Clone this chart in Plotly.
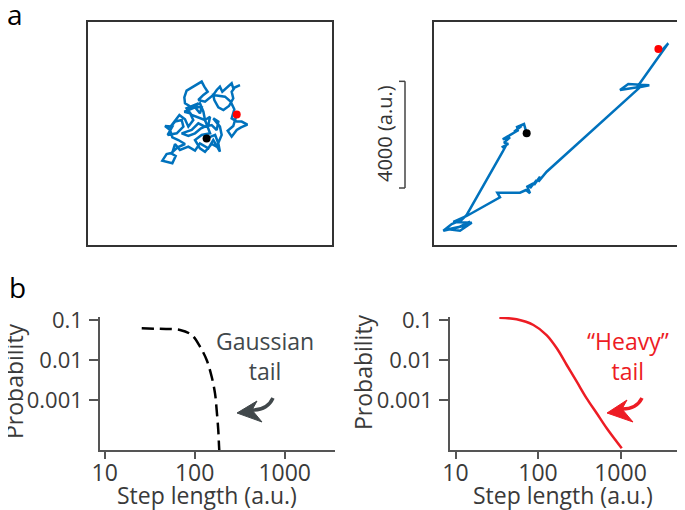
import plotly.graph_objects as go

# random walk (a.u.), Brownian-like on the left
bm_x = [4560, 4880, 5000, 5060, 4810, 4625, 4310, 4125, 3875, 3560, 3375, 3275, 3060, 2900, 3275, 3400,
        3225, 3475, 3750, 3500, 3275, 3190, 3000, 3275, 3100, 3440, 3690, 3625, 3375, 3190, 3540, 3750,
        3875, 4060, 3940, 3725, 4125, 4310, 4375, 4060, 4310, 4440, 4500, 4690, 4625, 4350, 4125, 3875,
        3625, 4000, 4250, 4500, 4750, 4940, 5000, 4810, 5060, 5125, 4940, 4750, 4500, 4310, 4125, 4375,
        4690, 4500, 4000, 3810, 4250, 4000, 3750, 3725, 3810, 4125, 4375, 4475, 4600, 4440, 4250, 4500,
        4650, 4810, 4940, 5060, 5150, 5310, 5500, 5560, 5810, 5625, 5500, 5560, 5400, 5190, 5000, 4850,
        4810, 5250, 5460, 5600, 5500, 5690, 5875, 6090, 5850, 5690, 5500, 5350, 5560, 5690]
bm_y = [4310, 4440, 4125, 3810, 4250, 3940, 4125, 3850, 4000, 3875, 4100, 3775, 3725, 3475, 3375, 3650,
        3750, 3975, 4100, 4250, 4350, 4625, 4775, 4750, 4440, 4500, 4750, 5000, 4940, 4725, 5190, 5025,
        4750, 5000, 5250, 5310, 5475, 5250, 5475, 5500, 5625, 5310, 5000, 5125, 4810, 4690, 4500, 4400,
        4500, 4625, 4875, 4750, 4810, 4625, 4940, 5060, 4750, 4440, 4000, 4100, 3810, 3940, 4250, 4440,
        4500, 5000, 5190, 5440, 5625, 5475, 5625, 5850, 6100, 6275, 6440, 6250, 6060, 5940, 5750, 5690,
        5810, 5940, 6125, 6250, 6060, 6190, 6375, 6190, 6310, 6225, 6060, 5810, 5525, 5375, 5475, 5750,
        5940, 5875, 5690, 5400, 5060, 4940, 4940, 4825, 4725, 4625, 4375, 4600, 4775, 5210]

# Levy-like walk on the right
lw_x = [4000, 3900, 3600, 3810, 3525, 3700, 3275, 3100, 3375, 3150, 3310, 3060, 3225, 3100, 1750,
        1560, 1190, 875, 1440, 1875, 1625, 1060, 1500, 1940, 1250, 1750, 3000, 2900, 3750, 3975,
        4125, 4025, 4250, 4125, 4375, 4275, 4500, 4440, 4750, 8275, 7500, 7810, 8600, 8125, 9310,
        9060, 8940]
lw_y = [4500, 4850, 4725, 4775, 4560, 4625, 4375, 4275, 4350, 4150, 4100, 3975, 4050, 3810, 1440,
        1250, 1100, 850, 975, 1190, 1025, 900, 850, 1150, 1175, 1400, 2100, 2275, 2275, 2375,
        2250, 2500, 2625, 2440, 2750, 2560, 2875, 2690, 3060, 6250, 6125, 6350, 6300, 6210, 7875,
        7600, 7660]

scale_bar = [2450, 6450]  # 4000 a.u.

# panel b step length distributions
gauss_step = [25.8, 41.1, 68.7, 92.6, 114.6, 135.9, 154.5, 168.2, 175.5, 182.8, 186.2, 188]
gauss_prob = [0.062, 0.060, 0.0562, 0.0422, 0.0215, 0.01, 0.00382, 0.00147, 0.00056, 0.000178, 0.000075, 0.00005]
heavy_step = [34, 55, 88, 127, 169, 223, 295, 389, 515, 681, 1035]
heavy_prob = [0.114, 0.104, 0.075, 0.042, 0.0196, 0.0075, 0.00287, 0.0011, 0.000465, 0.000196, 0.000062]

x_ticks = [10, 100, 1000]
y_ticks = [0.1, 0.01, 0.001]
y_ticktext = ["0.1", "0.01", "0.001"]

# the page body adds an 8px margin, so the figure is drawn 8px smaller and
# every layout position below is given in window pixels
OFF = 8
W, H = 685 - OFF, 510 - OFF
FONT = "Open Sans"
BLUE = "#0072BD"
RED = "#ED1C24"
GREY = "#41484b"
TXT = "#3a3a3a"


def fx(x):
    return (x - OFF) / W


def fy(y):
    return 1 - (y - OFF) / H


fig = go.Figure()

for (xs, ys, xa, ya) in [(bm_x, bm_y, "x", "y"), (lw_x, lw_y, "x2", "y2")]:
    fig.add_trace(go.Scatter(x=xs, y=ys, mode="lines", xaxis=xa, yaxis=ya,
                             line=dict(color=BLUE, width=2.5)))
    fig.add_trace(go.Scatter(x=[xs[0]], y=[ys[0]], mode="markers", xaxis=xa, yaxis=ya,
                             marker=dict(color="black", size=8)))
    fig.add_trace(go.Scatter(x=[xs[-1]], y=[ys[-1]], mode="markers", xaxis=xa, yaxis=ya,
                             marker=dict(color="#ff0000", size=8)))

fig.add_trace(go.Scatter(x=gauss_step, y=gauss_prob, mode="lines", xaxis="x3", yaxis="y3",
                         line=dict(color="black", width=2.5, dash="12px,6px", shape="spline")))
fig.add_trace(go.Scatter(x=heavy_step, y=heavy_prob, mode="lines", xaxis="x4", yaxis="y4",
                         line=dict(color=RED, width=2.5, shape="spline")))

box = dict(showline=True, mirror=True, linecolor="#333333", linewidth=2, showticklabels=False,
           showgrid=False, zeroline=False, ticks="")
ydom_top = [fy(245), fy(22)]
logx = dict(type="log", showline=True, linecolor="#555555", linewidth=1.5, ticks="outside",
            ticklen=7, tickcolor="#555555", tickwidth=1.5, showgrid=False, zeroline=False,
            tickvals=x_ticks, ticktext=[str(v) for v in x_ticks], ticklabelstandoff=-5,
            tickfont=dict(family=FONT, size=23, color=TXT))
logy = dict(type="log", showline=True, linecolor="#555555", linewidth=1.5, ticks="outside",
            ticklen=9, tickcolor="#555555", tickwidth=1.5, showgrid=False, zeroline=False,
            tickvals=y_ticks, ticktext=y_ticktext, range=[-4.25, -0.925], ticklabelstandoff=2,
            domain=[fy(450), fy(317)], tickfont=dict(family=FONT, size=22, color=TXT))

fig.update_layout(
    width=W, height=H, margin=dict(l=0, r=0, t=0, b=0, autoexpand=False),
    paper_bgcolor="white", plot_bgcolor="white", showlegend=False,
    font=dict(family=FONT, color=TXT),
    xaxis=dict(box, domain=[fx(88), fx(332)], range=[112.5, 9262.5]),
    yaxis=dict(box, domain=ydom_top, range=[312.5, 8675]),
    xaxis2=dict(box, domain=[fx(434), fx(677)], range=[525, 9637.5], anchor="y2"),
    yaxis2=dict(box, domain=ydom_top, range=[312.5, 8675], anchor="x2"),
    xaxis3=dict(logx, domain=[fx(100), fx(335)], range=[0.948, 3.559], anchor="y3"),
    yaxis3=dict(logy, anchor="x3"),
    xaxis4=dict(logx, domain=[fx(450), fx(685)], range=[0.933, 3.782], anchor="y4"),
    yaxis4=dict(logy, anchor="x4"),
)

# scale bar next to the right walk
bar = dict(color="#444444", width=1.5)
fig.add_shape(type="line", xref="paper", yref="y2", x0=fx(405), x1=fx(405),
              y0=scale_bar[0], y1=scale_bar[1], line=bar)
for v in scale_bar:
    fig.add_shape(type="line", xref="paper", yref="y2", x0=fx(399), x1=fx(405), y0=v, y1=v, line=bar)


def curved_arrow(tip, up, notch, low, end, ctrl, color):
    head = "M {} {} L {} {} L {} {} L {} {} Z".format(
        fx(tip[0]), fy(tip[1]), fx(up[0]), fy(up[1]), fx(notch[0]), fy(notch[1]), fx(low[0]), fy(low[1]))
    fig.add_shape(type="path", xref="paper", yref="paper", path=head,
                  fillcolor=color, line=dict(color=color, width=1))
    shaft = "M {} {} Q {} {} {} {}".format(
        fx(notch[0] - 2), fy(notch[1]), fx(ctrl[0]), fy(ctrl[1]), fx(end[0]), fy(end[1]))
    fig.add_shape(type="path", xref="paper", yref="paper", path=shaft,
                  line=dict(color=color, width=3.5))


curved_arrow((237, 413), (257, 401), (252, 410), (262, 422), (273, 398), (267, 411), GREY)
curved_arrow((607, 413), (627, 400), (622, 409), (633, 422), (642, 398), (636, 410), RED)

ann = [
    dict(text="a", x=fx(15), y=fy(14), size=28, color="black", angle=0),
    dict(text="b", x=fx(17), y=fy(287), size=28, color="black", angle=0),
    dict(text="4000 (a.u.)", x=fx(384), y=fy(134), size=20, color="#333333", angle=-90),
    dict(text="Probability", x=fx(14), y=fy(381), size=23, color=TXT, angle=-90),
    dict(text="Probability", x=fx(363), y=fy(372), size=23, color=TXT, angle=-90),
    dict(text="Step length (a.u.)", x=fx(207), y=fy(495), size=23, color=TXT, angle=0),
    dict(text="Step length (a.u.)", x=fx(563), y=fy(495), size=23, color=TXT, angle=0),
    dict(text="Gaussian<br>tail", x=fx(265), y=fy(356), size=23, color=GREY, angle=0),
    dict(text="\u201cHeavy\u201d<br>tail", x=fx(628), y=fy(356), size=23, color=RED, angle=0),
]
for a in ann:
    fig.add_annotation(text=a["text"], x=a["x"], y=a["y"], xref="paper", yref="paper",
                       showarrow=False, textangle=a["angle"], xanchor="center", yanchor="middle",
                       font=dict(family=FONT, size=a["size"], color=a["color"]))

fig.write_html("out.html")
